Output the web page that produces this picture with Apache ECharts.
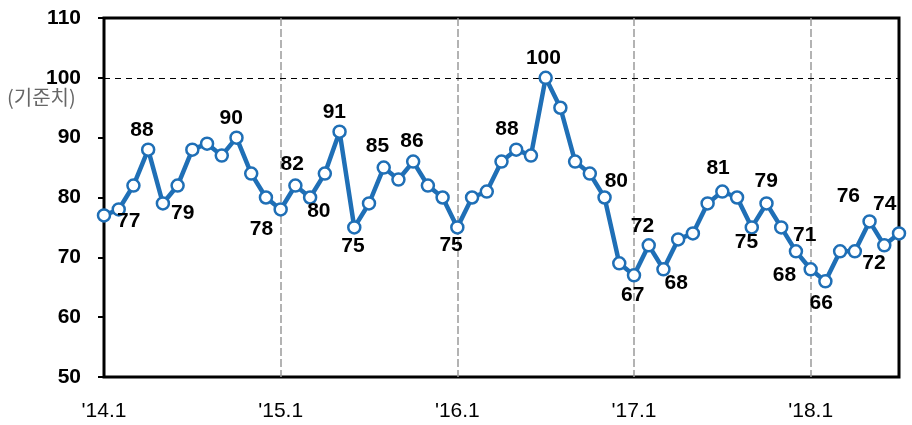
<!DOCTYPE html>
<html>
<head>
<meta charset="utf-8">
<script src="https://cdn.jsdelivr.net/npm/echarts@6/dist/echarts.min.js"></script>
<style>
html,body{margin:0;padding:0;background:#fff;}
#c{width:912px;height:425px;}
</style>
</head>
<body>
<div id="c"></div>
<script>
var categories = [
"'14.1","'14.2","'14.3","'14.4","'14.5","'14.6","'14.7","'14.8","'14.9","'14.10","'14.11","'14.12",
"'15.1","'15.2","'15.3","'15.4","'15.5","'15.6","'15.7","'15.8","'15.9","'15.10","'15.11","'15.12",
"'16.1","'16.2","'16.3","'16.4","'16.5","'16.6","'16.7","'16.8","'16.9","'16.10","'16.11","'16.12",
"'17.1","'17.2","'17.3","'17.4","'17.5","'17.6","'17.7","'17.8","'17.9","'17.10","'17.11","'17.12",
"'18.1","'18.2","'18.3","'18.4","'18.5","'18.6","'18.7"];
var values = [
77,78,82,88,79,82,88,89,87,90,84,80,
78,82,80,84,91,75,79,85,83,86,82,80,
75,80,81,86,88,87,100,95,86,84,80,69,
67,72,68,73,74,79,81,80,75,79,75,71,
68,66,71,71,76,72,74];
var yTicks = [50,60,70,80,90,100,110];
var refLevel = 100;
var refLabel = "(기준치)";
var labeledIdx = [0,3,4,9,12,13,14,16,17,19,21,24,28,30,34,36,37,38,42,44,45,47,48,49,52,53,54];

// label placement (layout only): offset of label centre from point centre
var labelOffsets = {
 0:[26,7],3:[-5,-18],4:[21,11],9:[-4,-18],12:[-18,21],13:[-2,-20],14:[10,15],16:[-4,-18],
 17:[0,20],19:[-5,-20],21:[0,-19],24:[-5,19],28:[-8,-19],30:[-1,-18],34:[13,-15],36:[0,21],
 37:[-5,-18],38:[14,15],42:[-3,-22],44:[-4,16],45:[1,-21],47:[10,-15],48:[-25,7],49:[-3,23],
 52:[-20,-24],53:[-9,19],54:[-13,-28]
};

var blue = '#1f6fb6';
var SYM = 12;
var seriesData = values.map(function(v,i){
  var item = {value:v};
  if (labeledIdx.indexOf(i) >= 0) {
    var o = labelOffsets[i];
    item.label = {show:true, position:[SYM/2 + o[0], SYM/2 + o[1]],
      align:'center', verticalAlign:'middle', formatter: String(v)};
  }
  return item;
});

var chart = echarts.init(document.getElementById('c'), null, {renderer:'canvas'});
chart.setOption({
  animation:false,
  grid:{left:104, right:13, top:18, bottom:48, show:true, borderColor:'#000', borderWidth:3, backgroundColor:'transparent'},
  xAxis:{
    type:'category', data:categories, boundaryGap:false,
    axisLine:{show:false},
    axisTick:{show:false},
    axisLabel:{
      interval:function(i,v){return i % 12 === 0;},
      margin:24, fontSize:21, color:'#000',
      fontFamily:"'Liberation Sans Narrow','Liberation Sans',Arial,sans-serif"
    },
    splitLine:{show:true, interval:function(i){return i % 12 === 0 && i > 0;},
      lineStyle:{color:'#9a9a9a', width:1.5, type:[8,3]}}
  },
  yAxis:{
    type:'value', min:yTicks[0], max:yTicks[yTicks.length-1], interval:10,
    axisLine:{show:false},
    axisTick:{show:true, inside:false, length:6, lineStyle:{color:'#000', width:2}},
    axisLabel:{margin:23, fontSize:21, fontWeight:'bold', color:'#000',
      fontFamily:"'Liberation Sans',Arial,sans-serif"},
    splitLine:{show:false}
  },
  graphic:[{
    type:'text', left:7, top:87,
    style:{text:refLabel, fill:'#666',
      font:"20px 'Noto Sans CJK KR', sans-serif"}
  }],
  series:[{
    type:'line', data:seriesData,
    symbol:'circle', symbolSize:SYM, showSymbol:true, showAllSymbol:true,
    lineStyle:{color:blue, width:4.5},
    itemStyle:{color:'#fff', borderColor:blue, borderWidth:2.5},
    label:{show:false, color:'#000', fontSize:21, fontWeight:'bold',
      fontFamily:"'Liberation Sans',Arial,sans-serif"},
    labelLayout:{hideOverlap:false},
    z:3,
    markLine:{
      silent:true, symbol:['none','none'],
      label:{show:false},
      lineStyle:{color:'#000', width:1, type:[6,5]},
      data:[{yAxis:refLevel}],
      z:1
    }
  }]
});
</script>
</body>
</html>
